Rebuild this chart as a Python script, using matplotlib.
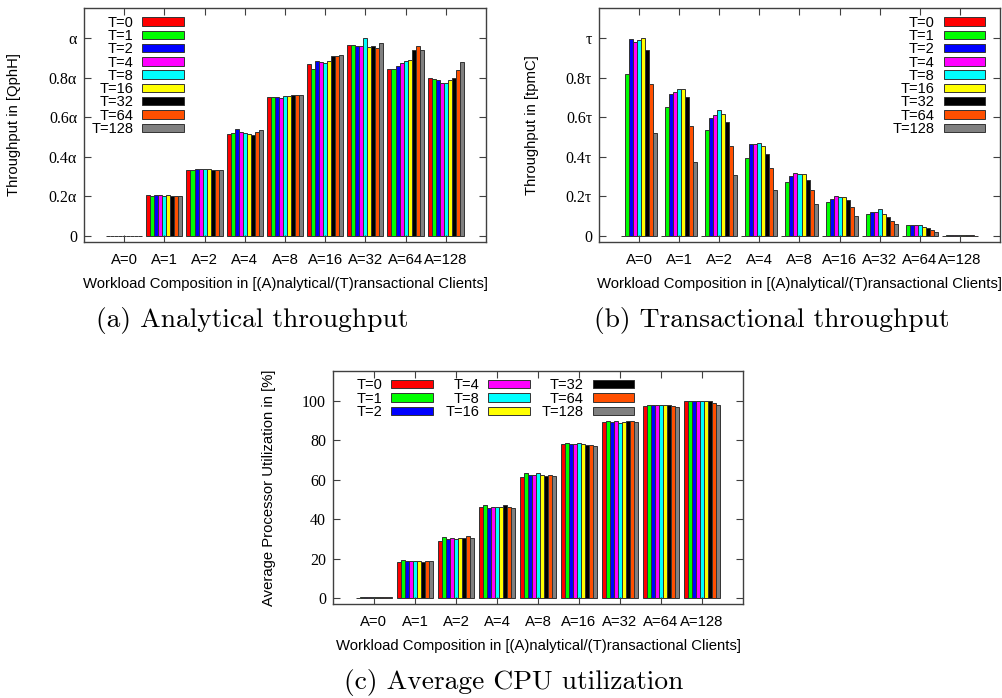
import numpy as np
import matplotlib
matplotlib.use("Agg")
import matplotlib.pyplot as plt

plt.rcParams['font.family'] = ['Liberation Sans', 'DejaVu Sans']

# Kategorien und Serien
a_labels = ["A=0", "A=1", "A=2", "A=4", "A=8", "A=16", "A=32", "A=64", "A=128"]
t_labels = ["T=0", "T=1", "T=2", "T=4", "T=8", "T=16", "T=32", "T=64", "T=128"]
t_colors = ["#ff0000", "#00ff00", "#0000ff", "#ff00ff", "#00ffff",
            "#ffff00", "#000000", "#ff4f00", "#808080"]

# Zeilen = A-Gruppe, Spalten = T=0..T=128
analytical = [
    [0, 0, 0, 0, 0, 0, 0, 0, 0],
    [0.205, 0.200, 0.207, 0.207, 0.200, 0.205, 0.203, 0.200, 0.200],
    [0.335, 0.335, 0.340, 0.338, 0.340, 0.337, 0.335, 0.333, 0.333],
    [0.513, 0.519, 0.540, 0.526, 0.519, 0.514, 0.509, 0.523, 0.535],
    [0.703, 0.702, 0.703, 0.698, 0.708, 0.708, 0.710, 0.713, 0.710],
    [0.870, 0.843, 0.882, 0.879, 0.875, 0.885, 0.907, 0.909, 0.914],
    [0.963, 0.966, 0.960, 0.960, 1.000, 0.953, 0.961, 0.948, 0.975],
    [0.841, 0.845, 0.857, 0.875, 0.885, 0.889, 0.941, 0.960, 0.941],
    [0.798, 0.793, 0.786, 0.774, 0.774, 0.786, 0.798, 0.838, 0.877],
]
transactional = [
    [0, 0.816, 0.993, 0.981, 0.992, 1.000, 0.938, 0.769, 0.519],
    [0, 0.654, 0.715, 0.728, 0.744, 0.745, 0.700, 0.558, 0.373],
    [0, 0.535, 0.597, 0.609, 0.636, 0.617, 0.575, 0.455, 0.309],
    [0, 0.395, 0.464, 0.465, 0.472, 0.454, 0.413, 0.342, 0.231],
    [0, 0.273, 0.302, 0.320, 0.312, 0.315, 0.285, 0.231, 0.160],
    [0, 0.170, 0.189, 0.204, 0.199, 0.197, 0.182, 0.145, 0.101],
    [0, 0.110, 0.121, 0.120, 0.137, 0.111, 0.096, 0.076, 0.061],
    [0, 0.057, 0.054, 0.056, 0.054, 0.046, 0.039, 0.029, 0.020],
    [0, 0.006, 0.006, 0.005, 0.005, 0.004, 0.003, 0.003, 0.002],
]
cpu = [
    [0.3, 0.6, 0.8, 0.8, 0.9, 0.8, 0.8, 0.8, 0.8],
    [18.4, 19.6, 19.1, 19.1, 18.9, 18.9, 18.4, 18.7, 18.7],
    [29.0, 31.0, 30.2, 30.7, 29.8, 30.5, 30.5, 31.4, 30.4],
    [46.4, 47.2, 45.5, 46.0, 46.4, 46.2, 47.0, 46.0, 45.9],
    [61.2, 63.2, 62.6, 62.6, 63.2, 62.6, 61.9, 62.2, 61.9],
    [77.9, 78.4, 78.2, 78.2, 78.4, 77.9, 77.7, 77.6, 77.1],
    [89.2, 89.7, 89.5, 89.7, 88.9, 89.5, 89.7, 89.9, 89.2],
    [97.6, 97.7, 97.7, 97.9, 97.7, 97.7, 97.7, 97.6, 96.8],
    [100.0, 100.0, 100.0, 100.0, 100.0, 100.0, 99.8, 98.9, 97.8],
]

xlabel = "Workload Composition in [(A)nalytical/(T)ransactional Clients]"
frame = "#404040"


def histogram(ax, data, ylim, yticks, yticklabels, ylabel, ylabx):
    vals = np.array(data)
    x = np.arange(len(a_labels))
    w = 0.1
    for j in range(len(t_labels)):
        ax.bar(x + (j - 4) * w, vals[:, j], width=w, color=t_colors[j],
               edgecolor="#333333", linewidth=0.7, label=t_labels[j])
    ax.set_xlim(-1, 9)
    ax.set_ylim(*ylim)
    ax.set_xticks(x)
    ax.set_xticklabels(a_labels, fontsize=10.7)
    ax.set_yticks(yticks)
    ax.set_yticklabels(yticklabels, fontfamily='Liberation Serif', fontsize=11.5)
    ax.tick_params(direction='in', length=5, width=0.8, color=frame,
                   top=True, right=True)
    ax.tick_params(axis='x', pad=8)
    ax.tick_params(axis='y', pad=5)
    for s in ax.spines.values():
        s.set_color(frame)
        s.set_linewidth(1.0)
    ax.set_xlabel(xlabel, fontsize=10.7, labelpad=7)
    ax.set_ylabel(ylabel, fontsize=10.7)
    ax.yaxis.set_label_coords(ylabx, 0.5)


def legend(ax, **kw):
    ax.legend(frameon=False, markerfirst=False, fontsize=10.5, handlelength=2.85,
              handleheight=0.5, handletextpad=0.6, labelspacing=-0.05,
              borderpad=0, borderaxespad=0, **kw)


fig = plt.figure(figsize=(10.02, 6.98), dpi=100)

ax1 = fig.add_axes([0.0838, 0.6533, 0.4012, 0.3352])
histogram(ax1, analytical, (-0.0303, 1.1515), [0, 0.2, 0.4, 0.6, 0.8, 1.0],
          ["0", "0.2α", "0.4α", "0.6α", "0.8α", "α"], "Throughput in [QphH]", -0.157)
legend(ax1, loc='upper left', bbox_to_anchor=(0.018, 0.967))

ax2 = fig.add_axes([0.5978, 0.6533, 0.4002, 0.3352])
histogram(ax2, transactional, (-0.0303, 1.1515), [0, 0.2, 0.4, 0.6, 0.8, 1.0],
          ["0", "0.2τ", "0.4τ", "0.6τ", "0.8τ", "τ"], "Throughput in [tpmC]", -0.150)
legend(ax2, loc='upper right', bbox_to_anchor=(0.963, 0.967))

ax3 = fig.add_axes([0.3323, 0.1347, 0.4092, 0.3338])
histogram(ax3, cpu, (-2.88, 115.1), [0, 20, 40, 60, 80, 100],
          ["0", "20", "40", "60", "80", "100"], "Average Processor Utilization in [%]", -0.139)
legend(ax3, loc='upper left', bbox_to_anchor=(0.058, 0.968), ncol=3, columnspacing=0.85)

# Unterschriften
cap = dict(ha='center', va='center', fontfamily='cmr10', fontsize=19.8)
fig.text(252 / 1002, 1 - 320 / 698, "(a) Analytical throughput", **cap)
fig.text(772 / 1002, 1 - 320 / 698, "(b) Transactional throughput", **cap)
fig.text(514 / 1002, 1 - 682 / 698, "(c) Average CPU utilization", **cap)

fig.savefig("out.png", dpi=100)
